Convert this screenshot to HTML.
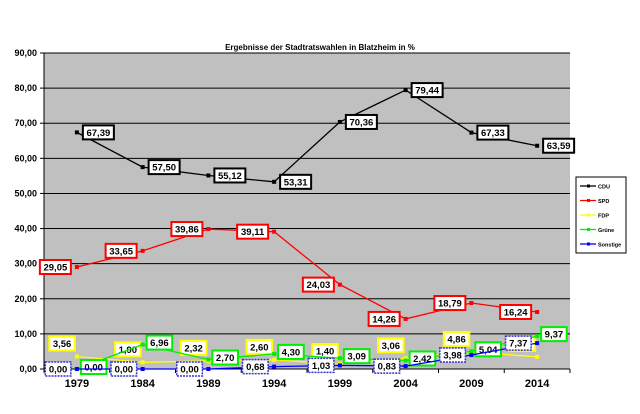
<!DOCTYPE html>
<html><head><meta charset="utf-8"><style>
body{margin:0;background:#fff;}
svg text{font-family:"Liberation Sans",sans-serif;font-weight:bold;}
</style></head><body>
<svg id="c" width="640" height="409" xmlns="http://www.w3.org/2000/svg">
<text x="320" y="50" font-size="8" text-anchor="middle">Ergebnisse der Stadtratswahlen in Blatzheim in %</text>
<rect x="44" y="53" width="526" height="316" fill="#c0c0c0"/>
<g id="grid"></g><g id="series"></g>
<g>
<rect x="576" y="177" width="50" height="76" fill="#fff" stroke="#000" stroke-width="1"/>
<g id="leg"></g></g>
</svg>
<script>
const categories=["1979","1984","1989","1994","1999","2004","2009","2014"];
const cdu=[67.39,57.50,55.12,53.31,70.36,79.44,67.33,63.59];
const spd=[29.05,33.65,39.86,39.11,24.03,14.26,18.79,16.24];
const fdp=[3.56,1.90,2.32,2.60,1.40,3.06,4.86,3.45];
const gruene=[0.00,6.96,2.70,4.30,3.09,2.42,5.04,9.37];
const sonstige=[0.00,0.00,0.00,0.68,1.03,0.83,3.98,7.37];
const yTicks=[0,10,20,30,40,50,60,70,80,90];
const seriesNames=["CDU","SPD","FDP","Grüne","Sonstige"];
const NS="http://www.w3.org/2000/svg";
const svg=document.getElementById('c');
const x0=44,x1=570,yB=369,yT=53;
const xs=i=>x0+(x1-x0)/categories.length*(i+0.5);
const ys=v=>yB-(yB-yT)*v/90;
function mk(t,a,p){const e=document.createElementNS(NS,t);for(const k in a)e.setAttribute(k,a[k]);(p||svg).appendChild(e);return e;}
const grid=document.getElementById('grid');
yTicks.forEach(t=>{
 const l=mk('line',{x1:x0,x2:x1,y1:ys(t),y2:ys(t),stroke:'#000','stroke-width':1},grid);
 
 
 const tx=mk('text',{x:37,y:ys(t)+3,'font-size':9,'text-anchor':'end'},grid);
 tx.textContent=t.toFixed(2).replace('.',',');
 
 
 mk('line',{x1:40,x2:x0,y1:ys(t),y2:ys(t),stroke:'#000'},grid);
});
mk('line',{x1:x0,x2:x0,y1:yT,y2:yB,stroke:'#000'},grid);
mk('line',{x1:x0,x2:x1,y1:yB,y2:yB,stroke:'#000'},grid);
categories.forEach((c,i)=>{
 const bx=x0+(x1-x0)/categories.length*i;
 mk('line',{x1:bx,x2:bx,y1:yB,y2:yB+4,stroke:'#000'},grid);
 const t=mk('text',{x:xs(i),y:387,'font-size':11,'text-anchor':'middle'},grid);
 t.textContent=c;
 
 
});
mk('line',{x1:x1,x2:x1,y1:yB,y2:yB+4,stroke:'#000'},grid);
const g=document.getElementById('series');
const defs=[
 {d:cdu,c:'#000',b:'#000',dx:6,dy:0,a:'start',bw:2},
 {d:spd,c:'#ff0000',b:'#ff0000',dx:-6,dy:0,a:'end',bw:2},
 {d:fdp,c:'#ffff00',b:'#ffff00',dx:-2,dy:-13,a:'end',bw:2},
 {d:gruene,c:'#00ee00',b:'#00ee00',dx:4,dy:-2,a:'start',bw:2},
 {d:sonstige,c:'#0000ff',b:'#3333cc',dx:-6,dy:0,a:'end',bw:1.5}
];
defs.forEach((s,si)=>{
 const pl=mk('polyline',{points:s.d.map((v,i)=>xs(i)+','+ys(v)).join(' '),fill:'none',stroke:s.c,'stroke-width':1.3},g);
 
 
 s.d.forEach((v,i)=>{
  const px=xs(i),py=ys(v);
  const m=mk('rect',{x:px-2,y:py-2,width:4,height:4,fill:s.c},g);
  
  
  const txt=v.toFixed(2).replace('.',',');
  const w=txt.length*5.4+4,h=14;
  const lx=s.a==='start'?px+s.dx:px+s.dx-w;
  const ly=py+s.dy-h/2;
  const r=mk('rect',{x:lx,y:ly,width:w,height:h,fill:'#fff',stroke:s.b,'stroke-width':s.bw,'stroke-dasharray':si===4?'2,1':'none'},g);
  
  
  const t=mk('text',{x:lx+w/2,y:ly+10.5,'font-size':9.5,'text-anchor':'middle'},g);
  t.textContent=txt;
  
  
 });
});
const leg=document.getElementById('leg');
defs.forEach((s,i)=>{
 const y=186+i*14.5;
 mk('line',{x1:580,x2:596,y1:y,y2:y,stroke:s.c,'stroke-width':1.3},leg);
 mk('rect',{x:587,y:y-1.5,width:3,height:3,fill:s.c},leg);
 const t=mk('text',{x:598,y:y+2.5,'font-size':5.5},leg);
 t.textContent=seriesNames[i];
 
 
});
</script>
</body></html>
